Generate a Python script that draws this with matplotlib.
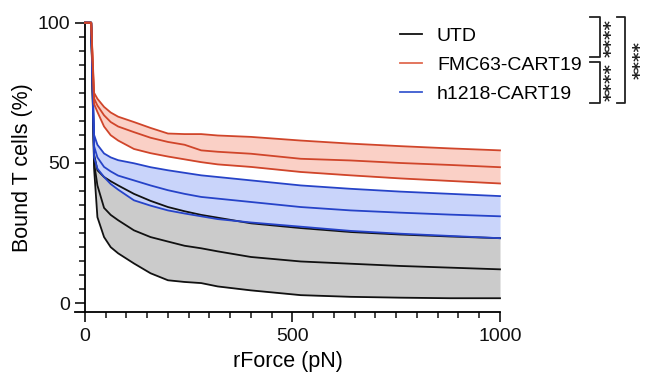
import matplotlib
matplotlib.use("Agg")
import matplotlib.pyplot as plt
from matplotlib.lines import Line2D

plt.rcParams['font.family'] = ['Liberation Sans', 'DejaVu Sans']

# ---- data ----
force = [0, 15, 22, 30, 46, 62, 80, 118, 158, 200, 240, 280, 320, 400, 520, 640, 760, 880, 1000]

fmc_upper = [100, 100, 75, 72.9, 70, 68, 66.5, 64.6, 62.5, 60.5, 60.3, 60.3, 59.8, 59.3, 58, 56.9, 56, 55.2, 54.5]
fmc_mean = [100, 100, 73, 70.5, 67, 64.6, 63, 61, 59, 57.5, 56.5, 54.5, 54, 53.3, 51.5, 50.9, 50, 49.3, 48.5]
fmc_lower = [100, 100, 71, 68.2, 63, 59.9, 58, 55, 53.5, 52.3, 51.3, 50.3, 49.5, 48.6, 46.8, 45.6, 44.5, 43.6, 42.7]

h12_upper = [100, 100, 60, 56.5, 53.4, 52, 51, 49.9, 48.5, 47.4, 46.5, 45.6, 45, 43.8, 42, 40.8, 39.8, 39, 38.2]
h12_mean = [100, 100, 56, 52, 48.6, 47, 45.5, 43.8, 42, 40.3, 39, 37.9, 37.3, 36.1, 34.3, 33.1, 32.3, 31.6, 31]
h12_lower = [100, 100, 52, 48, 45, 42.5, 40.5, 36.7, 34.8, 33.1, 32, 31, 30, 28.8, 27.3, 25.8, 24.8, 24, 23.2]

utd_upper = [100, 100, 53, 47.4, 45, 43.5, 42, 39, 36.5, 34.3, 32.8, 31.5, 30.5, 28.5, 26.8, 25.4, 24.5, 23.8, 23.2]
utd_mean = [100, 100, 50, 42, 34, 31.5, 29.6, 26, 23.6, 22, 20.5, 19.6, 18.5, 16.5, 14.9, 14.1, 13.3, 12.7, 12.1]
utd_lower = [100, 100, 48, 30.7, 23.6, 20, 17.8, 14.2, 10.7, 8.2, 7.6, 7.2, 6, 4.6, 2.9, 2.3, 2, 1.8, 1.8]

labels = ['UTD', 'FMC63-CART19', 'h1218-CART19']
line_colors = ['#111111', '#d0452a', '#2643c8']
fill_colors = ['#cbcbcb', '#fad0c6', '#c9d4fa']
sig_labels = ['****', '****', '****']

W, H = 654, 381
fig = plt.figure(figsize=(W / 100, H / 100), dpi=100)
ax = fig.add_axes([75 / W, 1 - 311.7 / H, (500 - 75) / W, (311.7 - 22.7) / H])

groups = [
    (utd_lower, utd_mean, utd_upper, line_colors[0], fill_colors[0]),
    (h12_lower, h12_mean, h12_upper, line_colors[2], fill_colors[2]),
    (fmc_lower, fmc_mean, fmc_upper, line_colors[1], fill_colors[1]),
]

for i, (lo, me, up, lc, fc) in enumerate(groups):
    ax.fill_between(force, lo, up, color=fc, lw=0, zorder=1 + i)
for i, (lo, me, up, lc, fc) in enumerate(groups):
    for s in (lo, me, up):
        ax.plot(force, s, color=lc, lw=1.3, zorder=5 + i, clip_on=False)

ax.set_xlim(-24, 1000)
ax.set_ylim(-3, 100)

for sp in ('top', 'right'):
    ax.spines[sp].set_visible(False)
ax.spines['left'].set_position(('data', 0))
ax.spines['left'].set_linewidth(1.3)
ax.spines['bottom'].set_linewidth(1.3)

ax.set_xticks([0, 500, 1000])
ax.set_xticks(list(range(0, 1001, 50)), minor=True)
ax.set_yticks([0, 50, 100])
ax.set_yticks(list(range(0, 101, 5)), minor=True)
ax.tick_params(axis='both', which='major', length=7, width=1.2, labelsize=14, colors='#111111')
ax.tick_params(axis='both', which='minor', length=4.5, width=1.1, colors='#111111')
ax.tick_params(axis='x', which='major', pad=5)

ax.set_xlabel('rForce (pN)', fontsize=15.5, labelpad=4)
ax.set_ylabel('Bound T cells (%)', fontsize=15.5)
ax.yaxis.set_label_coords(-0.099, 0.5)

handles = [Line2D([], [], color='#111111', lw=1.3),
           Line2D([], [], color='#e06a50', lw=1.3),
           Line2D([], [], color='#3a5ad0', lw=1.3)]
fig.legend(handles, labels, loc='center left', bbox_to_anchor=(400 / W, 1 - 65 / H),
           bbox_transform=fig.transFigure, frameon=False, fontsize=14,
           handlelength=1.15, handletextpad=0.75, labelspacing=0.6,
           borderpad=0, borderaxespad=0)


def fx(px):
    return px / W


def fy(py):
    return 1 - py / H


def bracket(x_in, x_v, y0, y1):
    fig.add_artist(Line2D([fx(x_in), fx(x_v), fx(x_v), fx(x_in)],
                          [fy(y0), fy(y0), fy(y1), fy(y1)],
                          color='#222222', lw=1.3, transform=fig.transFigure))


bracket(590, 600, 17, 57)
bracket(590, 600, 62, 103)
bracket(617, 625, 17, 103)

for lab, (xs, yc) in zip(sig_labels, [(611.5, 38), (611.5, 82), (641, 60)]):
    fig.text(fx(xs), fy(yc), lab, rotation=90, ha='center', va='center',
             fontsize=13, fontweight='bold', color='#222222',
             family='DejaVu Sans')

fig.savefig('out.png', dpi=100)
